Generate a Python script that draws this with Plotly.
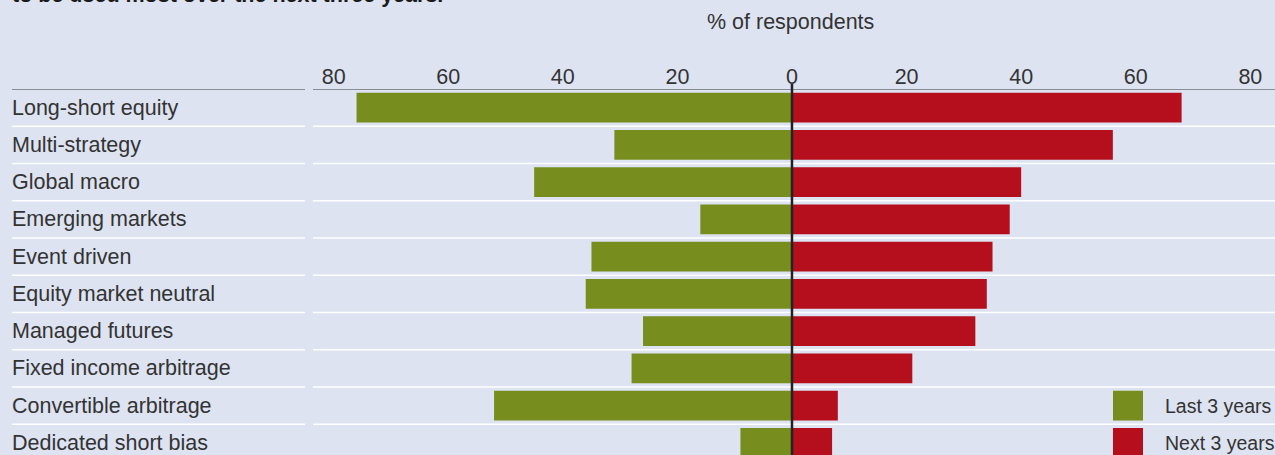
import plotly.graph_objects as go

categories = ["Long-short equity", "Multi-strategy", "Global macro", "Emerging markets",
              "Event driven", "Equity market neutral", "Managed futures",
              "Fixed income arbitrage", "Convertible arbitrage", "Dedicated short bias"]
last_3_years = [76, 31, 45, 16, 35, 36, 26, 28, 52, 9]
next_3_years = [68, 56, 40, 38, 35, 34, 32, 21, 8, 7]
tick_values = [-80, -60, -40, -20, 0, 20, 40, 60, 80]
tick_labels = ["80", "60", "40", "20", "0", "20", "40", "60", "80"]
series_names = ["Last 3 years", "Next 3 years"]

GREEN = "#778D1E"
RED = "#B50F1E"
BG = "#DEE3F1"
TXT = "#333333"
FONT = "Liberation Sans"

W, H = 1275, 455
L, T = 313, 89
PW, PH = W - L, H - T
ROW = 37.25

def px_x(px):
    return (px - L) / PW

def px_y(py):
    return (H - py) / PH

fig = go.Figure()
fig.add_trace(go.Bar(y=categories, x=[-v for v in last_3_years], orientation="h",
                     marker=dict(color=GREEN, line=dict(width=0)), name=series_names[0]))
fig.add_trace(go.Bar(y=categories, x=next_3_years, orientation="h",
                     marker=dict(color=RED, line=dict(width=0)), name=series_names[1]))

shapes = []
# top axis line
for x0, x1 in [(px_x(12), px_x(305)), (0, 1)]:
    shapes.append(dict(type="line", xref="paper", yref="y", x0=x0, x1=x1, y0=-0.5, y1=-0.5,
                       line=dict(color="#8A8D96", width=2), layer="below"))
# row separators
for i in range(len(categories) - 1):
    for x0, x1 in [(px_x(12), px_x(305)), (0, 1)]:
        shapes.append(dict(type="line", xref="paper", yref="y", x0=x0, x1=x1,
                           y0=i + 0.5, y1=i + 0.5,
                           line=dict(color="#FFFFFF", width=1.5), layer="below"))
# zero line
shapes.append(dict(type="line", xref="x", yref="paper", x0=0, x1=0, y0=0, y1=1 + 5 / PH,
                   line=dict(color="#222222", width=2.5), layer="above"))
# legend swatches
for i, (name, col) in enumerate(zip(series_names, [GREEN, RED])):
    row = 8 + i
    shapes.append(dict(type="rect", xref="paper", yref="y", x0=px_x(1113), x1=px_x(1143),
                       y0=row - 0.4, y1=row + 0.4, fillcolor=col, line=dict(width=0)))

annotations = []
for c in categories:
    annotations.append(dict(text=c, xref="paper", yref="y", x=px_x(10), y=c,
                            xanchor="left", yanchor="middle", showarrow=False,
                            font=dict(family=FONT, size=21.5, color=TXT)))
for i, name in enumerate(series_names):
    annotations.append(dict(text=name, xref="paper", yref="y", x=px_x(1163), y=8 + i,
                            xanchor="left", yanchor="middle", showarrow=False,
                            font=dict(family=FONT, size=19.5, color=TXT)))
annotations.append(dict(text="% of respondents", xref="paper", yref="paper",
                        x=px_x(790), y=px_y(22), xanchor="center", yanchor="middle",
                        showarrow=False, font=dict(family=FONT, size=21.5, color=TXT)))
annotations.append(dict(text="to be used most over the next three years.", xref="paper",
                        yref="paper", x=px_x(10), y=px_y(-5), xanchor="left", yanchor="middle",
                        showarrow=False, font=dict(family=FONT, size=21.5, color="#1A1A1A",
                                                   weight="bold")))

fig.update_layout(
    width=W, height=H,
    margin=dict(l=L, r=0, t=T, b=0, pad=0),
    paper_bgcolor=BG, plot_bgcolor=BG,
    barmode="relative", bargap=0.2,
    showlegend=False,
    shapes=shapes, annotations=annotations,
    xaxis=dict(range=[-83.6, 84.3], side="top", tickvals=tick_values, ticktext=tick_labels,
               showgrid=False, zeroline=False, showline=False, ticks="",
               tickfont=dict(family=FONT, size=21.5, color=TXT), fixedrange=True),
    yaxis=dict(categoryorder="array", categoryarray=categories,
               range=[(H - T) / ROW - 0.5, -0.5],
               showticklabels=False, showgrid=False, zeroline=False, showline=False,
               fixedrange=True),
)

fig.write_html("out.html")
